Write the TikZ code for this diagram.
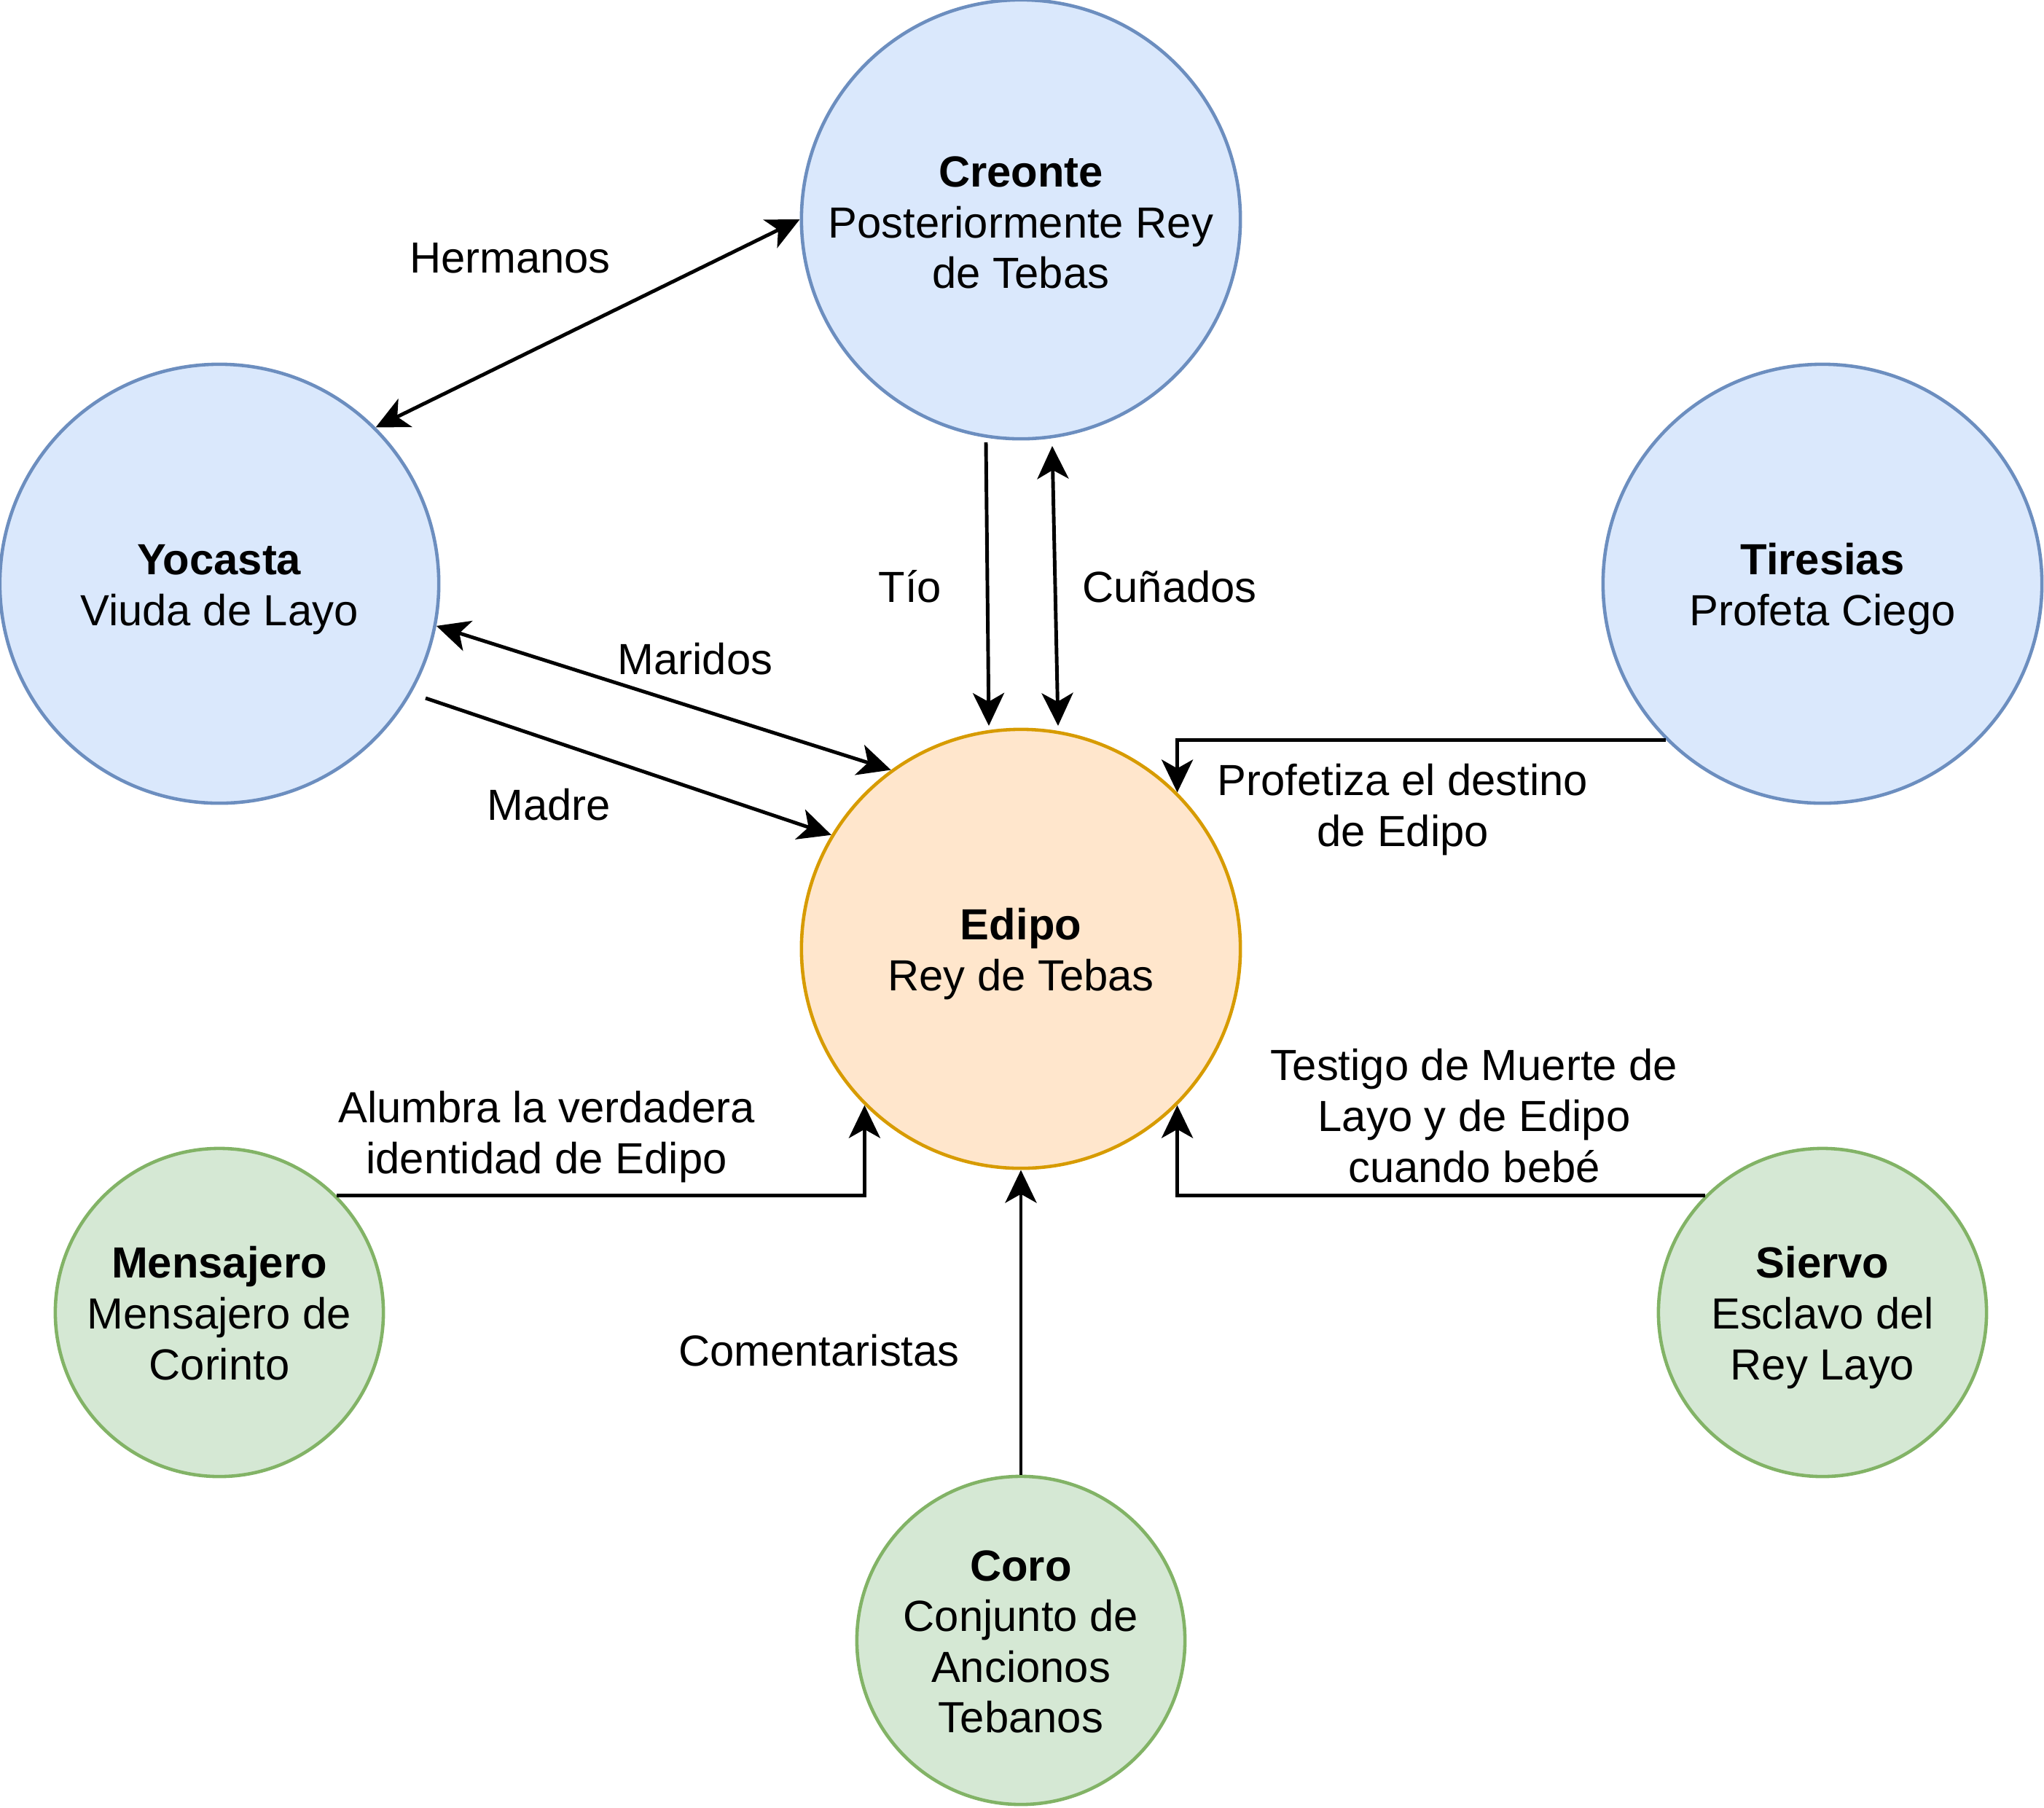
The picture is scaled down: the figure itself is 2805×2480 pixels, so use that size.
\documentclass[tikz,border=0pt]{standalone}
\usepackage{fontspec}
\setmainfont{Liberation Sans}
\usetikzlibrary{arrows.meta,calc}
\definecolor{blueFill}{HTML}{DAE8FC}
\definecolor{blueLine}{HTML}{6C8EBF}
\definecolor{orangeFill}{HTML}{FFE6CC}
\definecolor{orangeLine}{HTML}{D79B00}
\definecolor{greenFill}{HTML}{D5E8D4}
\definecolor{greenLine}{HTML}{82B366}
\newcommand{\lstrut}{\rule[-0.3em]{0pt}{1.15em}}
\newcommand{\tstrut}{\rule{0pt}{1.05em}}
\newcommand{\cstrut}{\rule{0pt}{0.85em}}
\tikzset{
  txt/.style={font=\fontsize{17}{19.8}\selectfont, align=center, inner sep=0pt},
  bigc/.style={txt, circle, minimum size=6.02cm, line width=1.3pt},
  smallc/.style={txt, circle, minimum size=4.5cm, line width=1.3pt},
  bluec/.style={bigc, fill=blueFill, draw=blueLine},
  orangec/.style={bigc, fill=orangeFill, draw=orangeLine},
  greenc/.style={smallc, fill=greenFill, draw=greenLine},
  conn/.style={line width=1.4pt, -{Stealth[length=0.45cm,width=0.43cm,inset=0.12cm]}},
  connboth/.style={line width=1.4pt, {Stealth[length=0.45cm,width=0.43cm,inset=0.12cm]}-{Stealth[length=0.45cm,width=0.43cm,inset=0.12cm]}},
  lbl/.style={txt}
}
\begin{document}
\begin{tikzpicture}[x=0.01cm,y=-0.01cm]
\useasboundingbox (0,0) rectangle (2805,2480);

% circles
\node[bluec] (creonte) at (1401,301) {\cstrut\textbf{Creonte}\\Posteriormente Rey\\de Tebas};
\node[bluec] (yocasta) at (301,801) {\tstrut\textbf{Yocasta}\\Viuda de Layo\lstrut};
\node[bluec] (tiresias) at (2501,801) {\tstrut\textbf{Tiresias}\\Profeta Ciego\lstrut};
\node[orangec] (edipo) at (1401,1302) {\tstrut\textbf{Edipo}\\Rey de Tebas\lstrut};
\node[greenc] (mensajero) at (301,1801) {\tstrut\textbf{Mensajero}\\Mensajero de\\Corinto\lstrut};
\node[greenc] (coro) at (1401,2251) {\tstrut\textbf{Coro}\\Conjunto de\\Ancionos\\Tebanos\lstrut};
\node[greenc] (siervo) at (2501,1801) {\tstrut\textbf{Siervo}\\Esclavo del\\Rey Layo\lstrut};

% free ends
\coordinate (tioA) at ($(creonte.center)+(-48,306)$);
\coordinate (tioB) at ($(edipo.center)+(-44,-306)$);
\coordinate (cunA) at ($(creonte.center)+(43,311)$);
\coordinate (cunB) at ($(edipo.center)+(51,-306)$);
\coordinate (madreA) at (584,958);

% connectors
\draw[connboth] (creonte.west) -- (yocasta.45);
\draw[conn] (tioA) -- (tioB);
\draw[connboth] (cunA) -- (cunB);
\draw[connboth] (yocasta.-11.5) -- (edipo.126.3);
\draw[conn] (madreA) -- (edipo.149.1);
\draw[conn] (tiresias.225) -| (edipo.45);
\draw[conn] (siervo.135) -| (edipo.-45);
\draw[conn] (mensajero.45) -| (edipo.-135);
\draw[conn] (coro.north) -- (edipo.south);

% labels
\node[lbl] (lHermanos) at (700,354) {Hermanos};
\node[lbl] (lTio) at (1249,805) {Tío};
\node[lbl] (lCunados) at (1605,805) {Cuñados};
\node[lbl] (lMaridos) at (954,904) {Maridos};
\node[lbl] (lMadre) at (753,1104) {Madre};
\node[lbl] (lProfetiza) at (1925,1104) {\tstrut Profetiza el destino\\de Edipo\lstrut};
\node[lbl] (lAlumbra) at (750,1553) {\tstrut Alumbra la verdadera\\identidad de Edipo\lstrut};
\node[lbl] (lComent) at (1124,1853) {Comentaristas};
\node[lbl] (lTestigo) at (2023,1530) {\tstrut Testigo de Muerte de\\Layo y de Edipo\\cuando bebé\lstrut};
\end{tikzpicture}
\end{document}
